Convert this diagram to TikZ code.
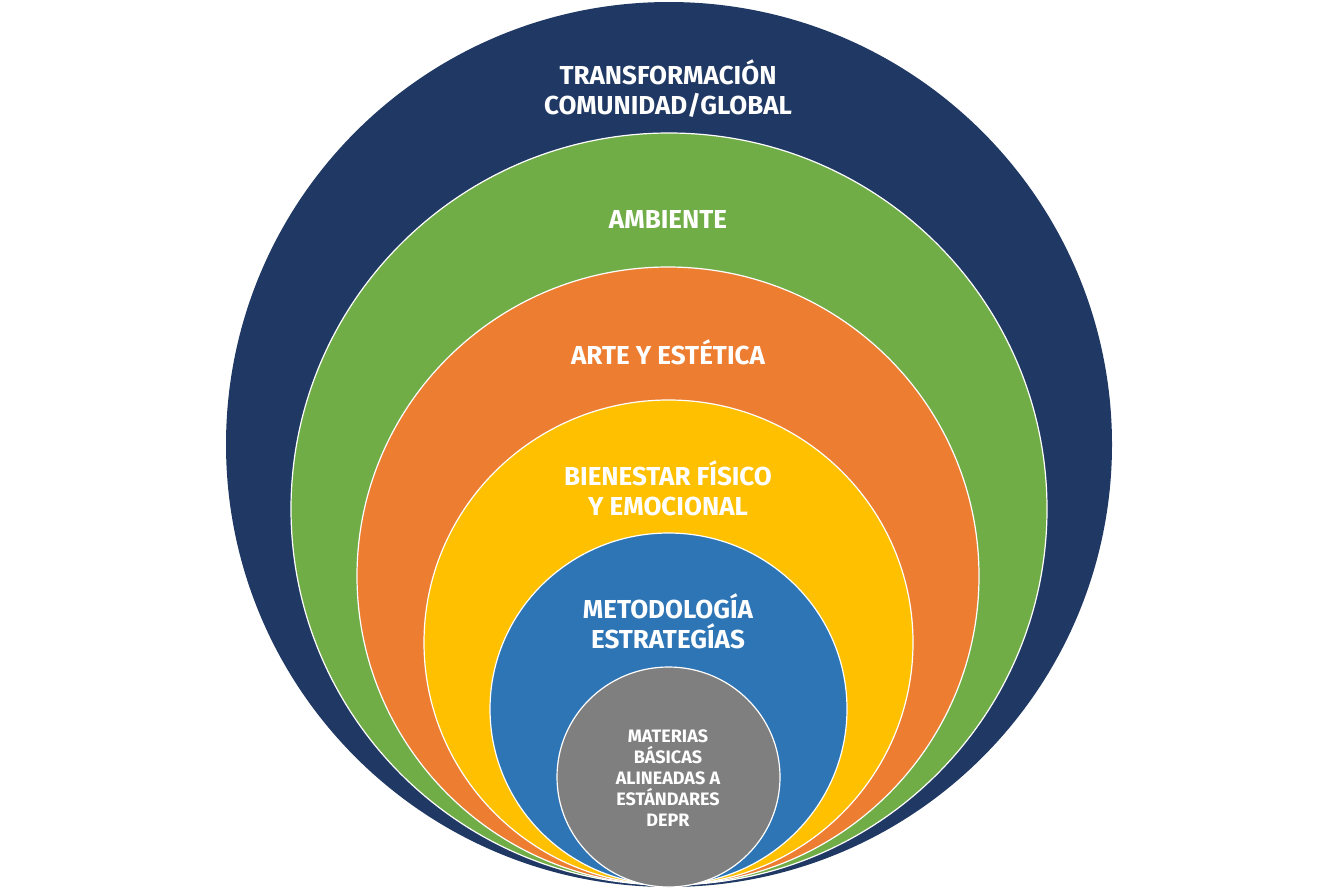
\documentclass[tikz,border=0pt]{standalone}
\usepackage{fontspec}
\setmainfont{Fira Sans}
\definecolor{cnavy}{HTML}{203864}
\definecolor{cgreen}{HTML}{70AD47}
\definecolor{corange}{HTML}{ED7D31}
\definecolor{cyellow}{HTML}{FFC000}
\definecolor{cblue}{HTML}{2E75B6}
\definecolor{cgray}{HTML}{7F7F7F}
\begin{document}
\begin{tikzpicture}[x=1pt,y=-1pt,
  ring/.style={draw=white,line width=1.2pt},
  lbl/.style={text=white,align=center,font=\fontsize{26}{30}\selectfont\bfseries},
  slbl/.style={text=white,align=center,font=\fontsize{18}{21}\selectfont\bfseries}]
\useasboundingbox (0,0) rectangle (1335,889);
\fill[cnavy] (669,444.5) ellipse [x radius=443,y radius=442.5];
\filldraw[ring,fill=cgreen] (669,509) ellipse [x radius=378,y radius=376];
\filldraw[ring,fill=corange] (668,576) ellipse [x radius=311,y radius=309];
\filldraw[ring,fill=cyellow] (668.5,642.5) ellipse [x radius=244.5,y radius=242.5];
\filldraw[ring,fill=cblue] (668.5,709) ellipse [x radius=178.5,y radius=176];
\filldraw[ring,fill=cgray] (668.5,777) ellipse [x radius=111.5,y radius=110];
\node[lbl] (t1) at (668,89) {TRANSFORMACIÓN\\COMUNIDAD/GLOBAL};
\node[lbl] (t2) at (668,219) {AMBIENTE};
\node[lbl] (t3) at (668,352) {ARTE Y ESTÉTICA};
\node[lbl] (t4) at (668,488) {BIENESTAR FÍSICO\\Y EMOCIONAL};
\node[lbl] (t5) at (668,621) {METODOLOGÍA\\ESTRATEGÍAS};
\node[slbl] (t6) at (668,778) {MATERIAS\\BÁSICAS\\ALINEADAS A\\ESTÁNDARES\\DEPR};
\end{tikzpicture}
\end{document}
